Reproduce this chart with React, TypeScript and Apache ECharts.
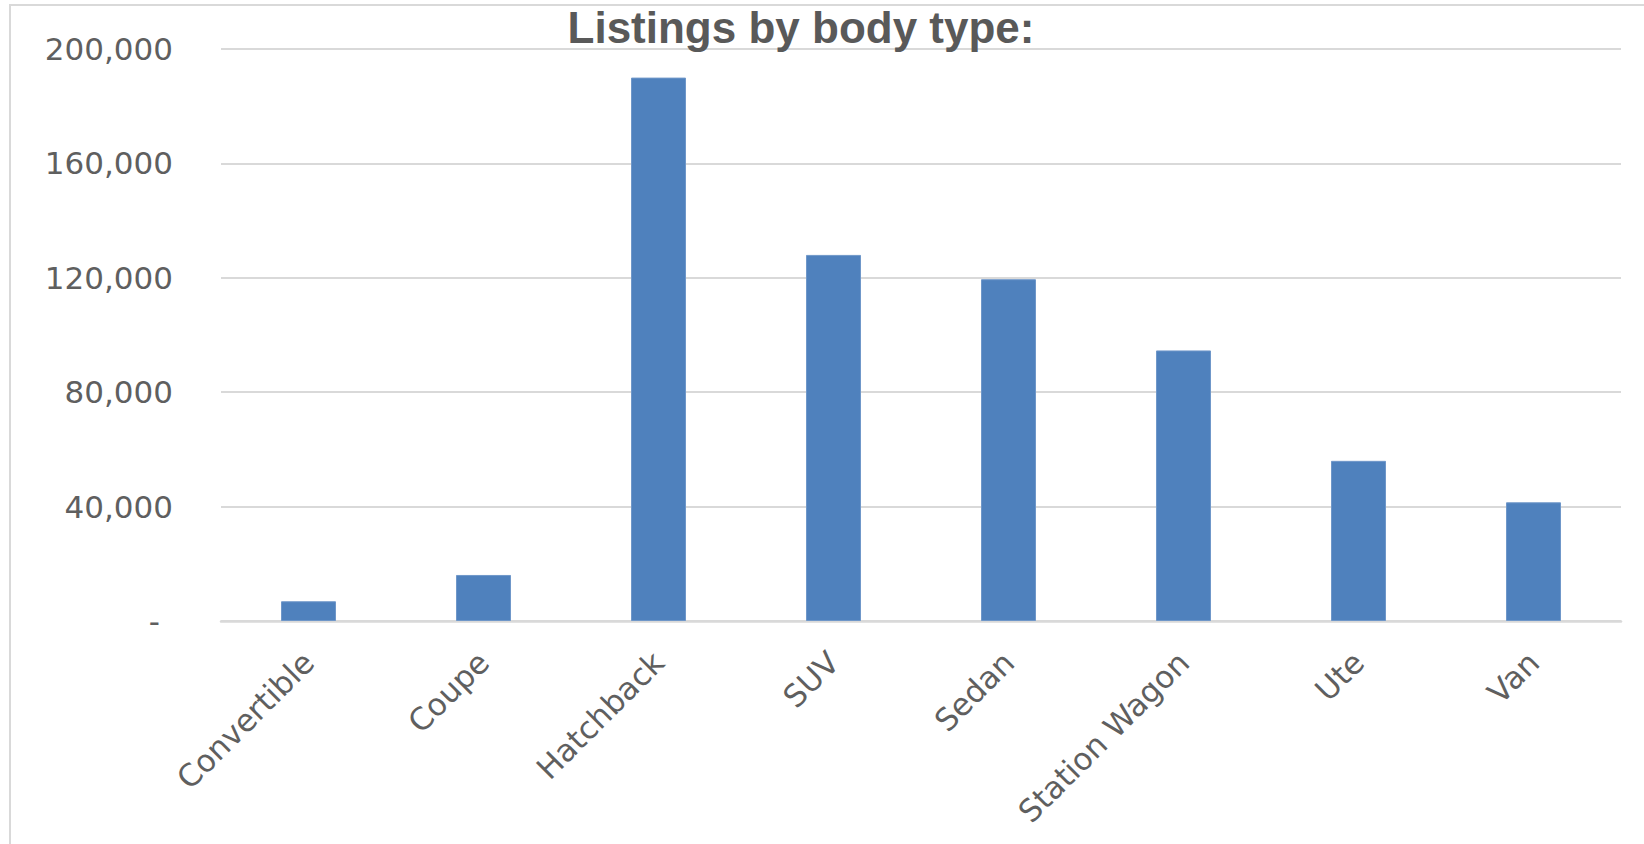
import React, { useEffect, useRef } from "react";
import * as echarts from "echarts";

const categories = ["Convertible", "Coupe", "Hatchback", "SUV", "Sedan", "Station Wagon", "Ute", "Van"];
const listings = [6900, 16100, 190000, 128000, 119500, 94600, 56000, 41500];
const titleText = "Listings by body type:";
const yMin = 0;
const yMax = 200000;
const yStep = 40000;

export default function App() {
  const ref = useRef<HTMLDivElement>(null);
  useEffect(() => {
    document.body.style.margin = "0";
    const chart = echarts.init(ref.current!, null, { renderer: "svg" });
    const labelColor = "#5f5f5f";
    const font = '"DejaVu Sans", sans-serif';
    chart.setOption({
      animation: false,
      backgroundColor: "#ffffff",
      grid: { left: 221, right: 23, top: 49, bottom: 223 },
      graphic: [
        {
          type: "rect",
          z: -10,
          shape: { x: 10, y: 5, width: 1680, height: 900 },
          style: { fill: "none", stroke: "#d9d9d9", lineWidth: 2 },
        },
        {
          type: "text",
          x: 801,
          y: 27,
          z: 10,
          style: {
            text: titleText,
            font: 'bold 44px "Liberation Sans", Arial, sans-serif',
            fill: "#595959",
            textAlign: "center",
            textVerticalAlign: "middle",
          },
        },
      ],
      xAxis: {
        type: "category",
        data: categories,
        axisLine: { lineStyle: { color: "#d9d9d9", width: 2.5 } },
        axisTick: { show: false },
        axisLabel: {
          interval: 0,
          rotate: 45,
          margin: 36,
          color: labelColor,
          fontSize: 31,
          fontFamily: font,
        },
      },
      yAxis: {
        type: "value",
        min: yMin,
        max: yMax,
        interval: yStep,
        axisLine: { show: false },
        axisTick: { show: false },
        splitLine: { lineStyle: { color: "#d9d9d9", width: 2 } },
        axisLabel: {
          margin: 48,
          color: labelColor,
          fontSize: 31,
          fontFamily: font,
          formatter: (v: number) => (v === 0 ? "{d|-}" : v.toLocaleString("en-US")),
          rich: {
            d: { padding: [0, 13, 0, 0], color: labelColor, fontSize: 31, fontFamily: font },
          },
        },
      },
      series: [
        {
          type: "bar",
          data: listings,
          barWidth: 55,
          itemStyle: { color: "#4f81bd", borderColor: "#6f97c9", borderWidth: 1 },
        },
      ],
    });
    return () => chart.dispose();
  }, []);
  return <div ref={ref} style={{ position: "absolute", left: 0, top: 0, width: 1644, height: 844 }} />;
}
